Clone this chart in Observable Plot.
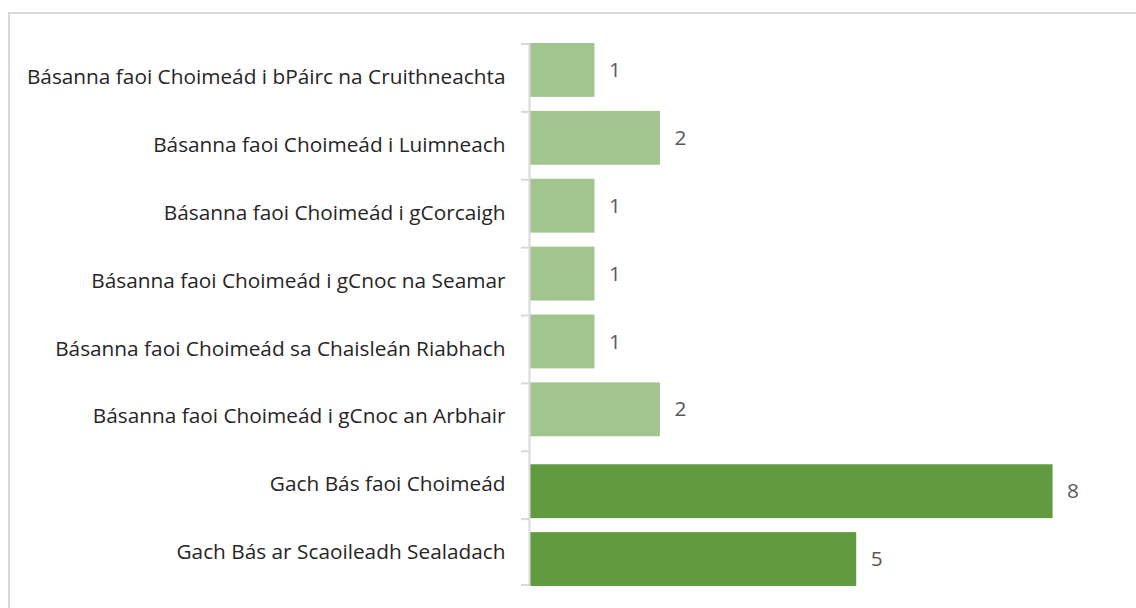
<!DOCTYPE html>
<html>
<head>
<meta charset="utf-8">
<script src="https://cdn.jsdelivr.net/npm/d3@7"></script>
<script src="https://cdn.jsdelivr.net/npm/@observablehq/plot@0.6"></script>
<style>
  html, body { margin: 0; padding: 0; background: #fff; overflow: hidden; }
  #frame { position: absolute; left: 8px; top: 12px; width: 1300px; height: 800px; border: 2px solid #d9d9d9; box-sizing: border-box; pointer-events: none; }
  #chart { position: absolute; left: 0; top: 0; line-height: 0; }
</style>
</head>
<body>
<div id="chart"></div>
<div id="frame"></div>
<script>
const categories = [
  "Básanna faoi Choimeád i bPáirc na Cruithneachta",
  "Básanna faoi Choimeád i Luimneach",
  "Básanna faoi Choimeád i gCorcaigh",
  "Básanna faoi Choimeád i gCnoc na Seamar",
  "Básanna faoi Choimeád sa Chaisleán Riabhach",
  "Básanna faoi Choimeád i gCnoc an Arbhair",
  "Gach Bás faoi Choimeád",
  "Gach Bás ar Scaoileadh Sealadach"
];
const prisonValues = [1, 2, 1, 1, 1, 2, null, null];
const totalValues = [null, null, null, null, null, null, 8, 5];

const lightColor = "#a2c48f";
const darkColor = "#629b3f";

const W = 1136, H = 608;
const mL = 529, mR = 18, mT = 43, mB = 22;
const step = (H - mT - mB) / categories.length;
const gap = 14;
const xMax = 9;
const tickLen = 8 * xMax / (W - mL - mR);

const prisonData = categories.map((c, i) => ({cat: c, v: prisonValues[i]})).filter(d => d.v != null);
const totalData = categories.map((c, i) => ({cat: c, v: totalValues[i]})).filter(d => d.v != null);

const font = "'Open Sans', sans-serif";
const fs = 20.8;

const plot = Plot.plot({
  width: W,
  height: H,
  marginLeft: mL,
  marginRight: mR,
  marginTop: mT,
  marginBottom: mB,
  style: {fontFamily: font, fontSize: fs + "px", background: "transparent"},
  x: {domain: [0, xMax], axis: null},
  y: {domain: categories, padding: 0, round: false, axis: null},
  marks: [
    Plot.barX(prisonData, {y: "cat", x: "v", fill: lightColor, insetBottom: gap, insetTop: 0}),
    Plot.barX(totalData, {y: "cat", x: "v", fill: darkColor, insetTop: gap, insetBottom: 0}),
    Plot.ruleX([0], {stroke: "#d9d9d9", strokeWidth: 2}),
    Plot.barX(categories, {y: d => d, x1: -tickLen, x2: 0, fill: "#d9d9d9", insetBottom: step - 2}),
    Plot.barX(categories.slice(-1), {y: d => d, x1: -tickLen, x2: 0, fill: "#d9d9d9", insetTop: step - 2}),
    Plot.axisY({tickSize: 0, tickPadding: 24, fill: "#262626", fontSize: fs, fontFamily: font, label: null}),
    Plot.text(prisonData, {y: "cat", x: "v", text: d => String(d.v), textAnchor: "start", dx: 14, dy: -gap / 2, fill: "#595959", fontSize: fs}),
    Plot.text(totalData, {y: "cat", x: "v", text: d => String(d.v), textAnchor: "start", dx: 14, dy: gap / 2, fill: "#595959", fontSize: fs})
  ]
});
document.getElementById("chart").appendChild(plot);
</script>
</body>
</html>
